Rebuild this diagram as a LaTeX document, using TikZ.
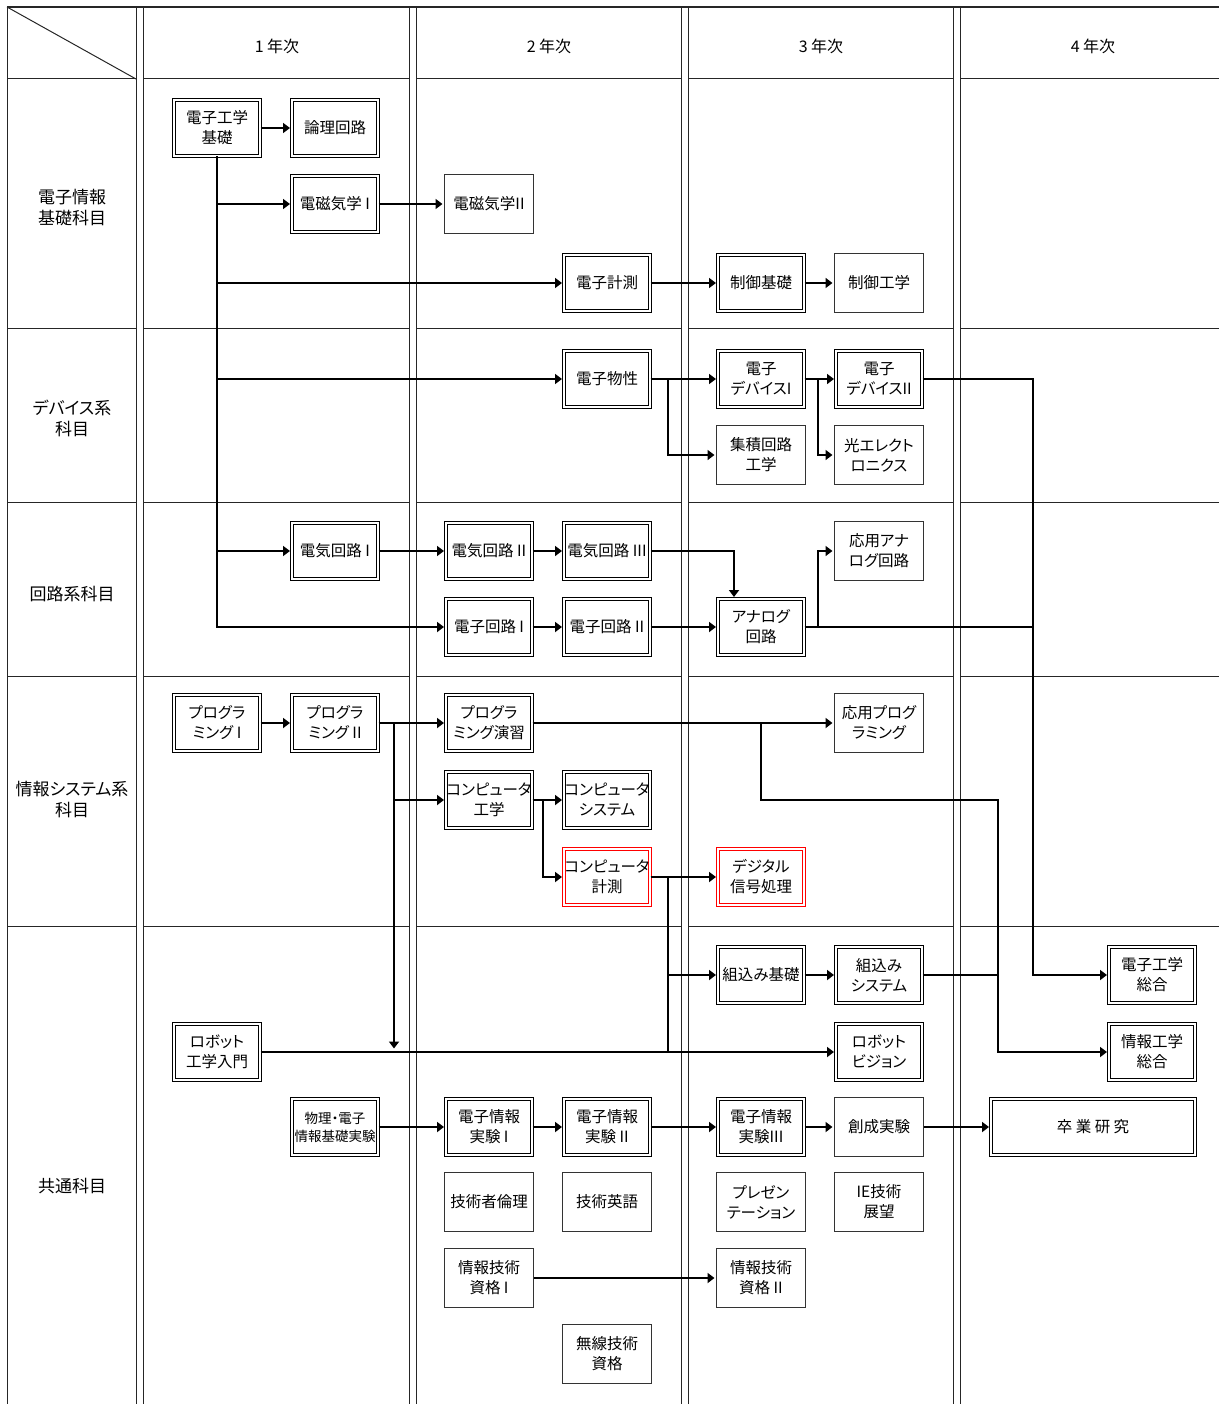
\documentclass[tikz,border=0pt]{standalone}
\usepackage{fontspec}
\setmainfont{Noto Sans CJK JP}[RawFeature=+palt]
\usetikzlibrary{arrows.meta}

\begin{document}
\begin{tikzpicture}[x=1pt, y=-1pt]
\tikzset{ >={Triangle[length=7pt,width=10pt]},
  grid/.style={line width=1pt, black!85},
  boxfont/.style={font=\fontsize{15.5}{20}\selectfont},
  subj/.style={draw, double, double distance=2pt, line width=1pt, inner sep=0pt,
    minimum width=86pt, minimum height=56pt, align=center, boxfont},
  opt/.style={draw=black!80, line width=1pt, inner sep=0pt,
    minimum width=89pt, minimum height=59pt, align=center, boxfont},
  hot/.style={subj, draw=red},
  rowlabel/.style={align=center, font=\fontsize{17}{21}\selectfont},
  yearlabel/.style={font=\fontsize{16}{20}\selectfont},
  link/.style={line width=2.2pt, shorten >=1.5pt},
}
\useasboundingbox (0,0) rectangle (1219,1404);

% table
\draw [grid, line width=1.5pt] (7,7) -- (1219,7);
\draw [grid] (7,7) -- (7,1404);
\foreach \x in {136,143,409,416,681,688,953,960}
  \draw [grid] (\x,7) -- (\x,1404);
\foreach \y in {79,328,502,676,926} {
  \draw [grid] (7,\y) -- (136,\y);
  \foreach \a/\b in {143/409,416/681,688/953,960/1219}
    \draw [grid] (\a,\y) -- (\b,\y);
}
\draw [grid] (7,7) -- (136,79);

% years
\node [yearlabel] (y1) at (277,46) {1 年次};
\node [yearlabel] (y2) at (549,46) {2 年次};
\node [yearlabel] (y3) at (821,46) {3 年次};
\node [yearlabel] (y4) at (1093,46) {4 年次};

% rows
\node [rowlabel] (r1) at (72,208) {電子情報\\基礎科目};
\node [rowlabel] (r2) at (72,418) {デバイス系\\科目};
\node [rowlabel] (r3) at (72,594) {回路系科目};
\node [rowlabel] (r4) at (72,800) {情報システム系\\科目};
\node [rowlabel] (r5) at (72,1186) {共通科目};

% subjects
\node [subj] (ekiso)    at (217,128) {電子工学\\基礎};
\node [subj] (ronri)    at (335,128) {論理回路};
\node [subj] (denji1)   at (335,204) {電磁気学 I};
\node [opt]  (denji2)   at (489,204) {電磁気学II};
\node [subj] (keisoku)  at (607,283) {電子計測};
\node [subj] (skiso)    at (761,283) {制御基礎};
\node [opt]  (skogaku)  at (879,283) {制御工学};

\node [subj] (bussei)   at (607,379) {電子物性};
\node [subj] (dev1)     at (761,379) {電子\\デバイスI};
\node [subj] (dev2)     at (879,379) {電子\\デバイスII};
\node [opt]  (shuseki)  at (761,455) {集積回路\\工学};
\node [opt]  (hikari)   at (879,455) {光エレクト\\ロニクス};

\node [subj] (denki1)   at (335,551) {電気回路 I};
\node [subj] (denki2)   at (489,551) {電気回路 II};
\node [subj] (denki3)   at (607,551) {電気回路 III};
\node [opt]  (oanalog)  at (879,551) {応用アナ\\ログ回路};
\node [subj] (denshi1)  at (489,627) {電子回路 I};
\node [subj] (denshi2)  at (607,627) {電子回路 II};
\node [subj] (analog)   at (761,627) {アナログ\\回路};

\node [subj] (prog1)    at (217,723) {プログラ\\ミング I};
\node [subj] (prog2)    at (335,723) {プログラ\\ミング II};
\node [subj] (progen)   at (489,723) {プログラ\\ミング演習};
\node [opt]  (oprog)    at (879,723) {応用プログ\\ラミング};
\node [subj] (comp)     at (489,800) {コンピュータ\\工学};
\node [subj] (compsys)  at (607,800) {コンピュータ\\システム};
\node [hot]  (compkei)  at (607,877) {コンピュータ\\計測};
\node [hot]  (dsp)      at (761,877) {デジタル\\信号処理};

\node [subj] (kumi1)    at (761,975) {組込み基礎};
\node [subj] (kumi2)    at (879,975) {組込み\\システム};
\node [subj] (esogo)    at (1152,975) {電子工学\\総合};
\node [subj] (robo1)    at (217,1052) {ロボット\\工学入門};
\node [subj] (robo2)    at (879,1052) {ロボット\\ビジョン};
\node [subj] (isogo)    at (1152,1052) {情報工学\\総合};
\node [subj, font=\fontsize{13.5}{18}\selectfont] (jikken0) at (335,1127) {物理・電子\\情報基礎実験};
\node [subj] (jikken1)  at (489,1127) {電子情報\\実験 I};
\node [subj] (jikken2)  at (607,1127) {電子情報\\実験 II};
\node [subj] (jikken3)  at (761,1127) {電子情報\\実験III};
\node [opt]  (sosei)    at (879,1127) {創成実験};
\node [subj, minimum width=204pt] (sotsuken) at (1093,1127) {卒 業 研 究};
\node [opt]  (rinri)    at (489,1202) {技術者倫理};
\node [opt]  (eigo)     at (607,1202) {技術英語};
\node [opt]  (presen)   at (761,1202) {プレゼン\\テーション};
\node [opt]  (ie)       at (879,1202) {IE技術\\展望};
\node [opt]  (shikaku1) at (489,1278) {情報技術\\資格 I};
\node [opt]  (shikaku2) at (761,1278) {情報技術\\資格 II};
\node [opt]  (musen)    at (607,1354) {無線技術\\資格};

% bends
\coordinate (jB)  at (668,379);
\coordinate (jDv) at (818,379);
\coordinate (jE)  at (1033,379);
\coordinate (jC)  at (734,551);
\coordinate (jA)  at (818,627);
\coordinate (jP)  at (394,723);
\coordinate (jR)  at (394,1050);
\coordinate (jQ)  at (761,723);
\coordinate (jQ2) at (998,800);
\coordinate (jK)  at (543,800);
\coordinate (jM)  at (668,877);

% electronics basics
\draw [link, ->] (ekiso) -- (ronri);
\draw [link, ->] (ekiso.south) |- (denji1.west);
\draw [link, ->] (ekiso.south) |- (keisoku.west);
\draw [link, ->] (ekiso.south) |- (bussei.west);
\draw [link, ->] (ekiso.south) |- (denki1.west);
\draw [link, ->] (ekiso.south) |- (denshi1.west);
\draw [link, ->] (denji1) -- (denji2);
\draw [link, ->] (keisoku) -- (skiso);
\draw [link, ->] (skiso) -- (skogaku);

% devices
\draw [link, ->] (bussei) -- (dev1);
\draw [link, ->] (bussei.east) -- (jB) |- (shuseki.west);
\draw [link, ->] (dev1) -- (dev2);
\draw [link, ->] (dev1.east) -- (jDv) |- (hikari.west);
\draw [link, ->] (dev2.east) -- (jE) |- (esogo.west);

% circuits
\draw [link, ->] (denki1) -- (denki2);
\draw [link, ->] (denki2) -- (denki3);
\draw [link, ->] (denki3.east) -- (jC) -- (jC |- analog.north);
\draw [link, ->] (denshi1) -- (denshi2);
\draw [link, ->] (denshi2) -- (analog);
\draw [link, ->] (analog.east) -- (jA) |- (oanalog.west);
\draw [link] (analog.east) -- (analog.east -| jE);

% information systems
\draw [link, ->] (prog1) -- (prog2);
\draw [link, ->] (prog2) -- (progen);
\draw [link, ->] (prog2.east) -- (jP) |- (comp.west);
\draw [link, ->] (jP) -- (jR);
\draw [link, ->] (progen) -- (oprog);
\draw [link, ->] (progen.east) -- (jQ) |- (jQ2) |- (isogo.west);
\draw [link, ->] (comp) -- (compsys);
\draw [link, ->] (comp.east) -- (jK) |- (compkei.west);
\draw [link, ->] (compkei) -- (dsp);
\draw [link, ->] (compkei.east) -- (jM) |- (kumi1.west);
\draw [link] (jM) -- (jM |- robo1.east);
\draw [link, ->] (kumi1) -- (kumi2);
\draw [link] (kumi2.east) -- (kumi2.east -| jQ2);
\draw [link, ->] (robo1) -- (robo2);

% common
\draw [link, ->] (jikken0) -- (jikken1);
\draw [link, ->] (jikken1) -- (jikken2);
\draw [link, ->] (jikken2) -- (jikken3);
\draw [link, ->] (jikken3) -- (sosei);
\draw [link, ->] (sosei) -- (sotsuken);
\draw [link, ->] (shikaku1) -- (shikaku2);

\end{tikzpicture}
\end{document}
